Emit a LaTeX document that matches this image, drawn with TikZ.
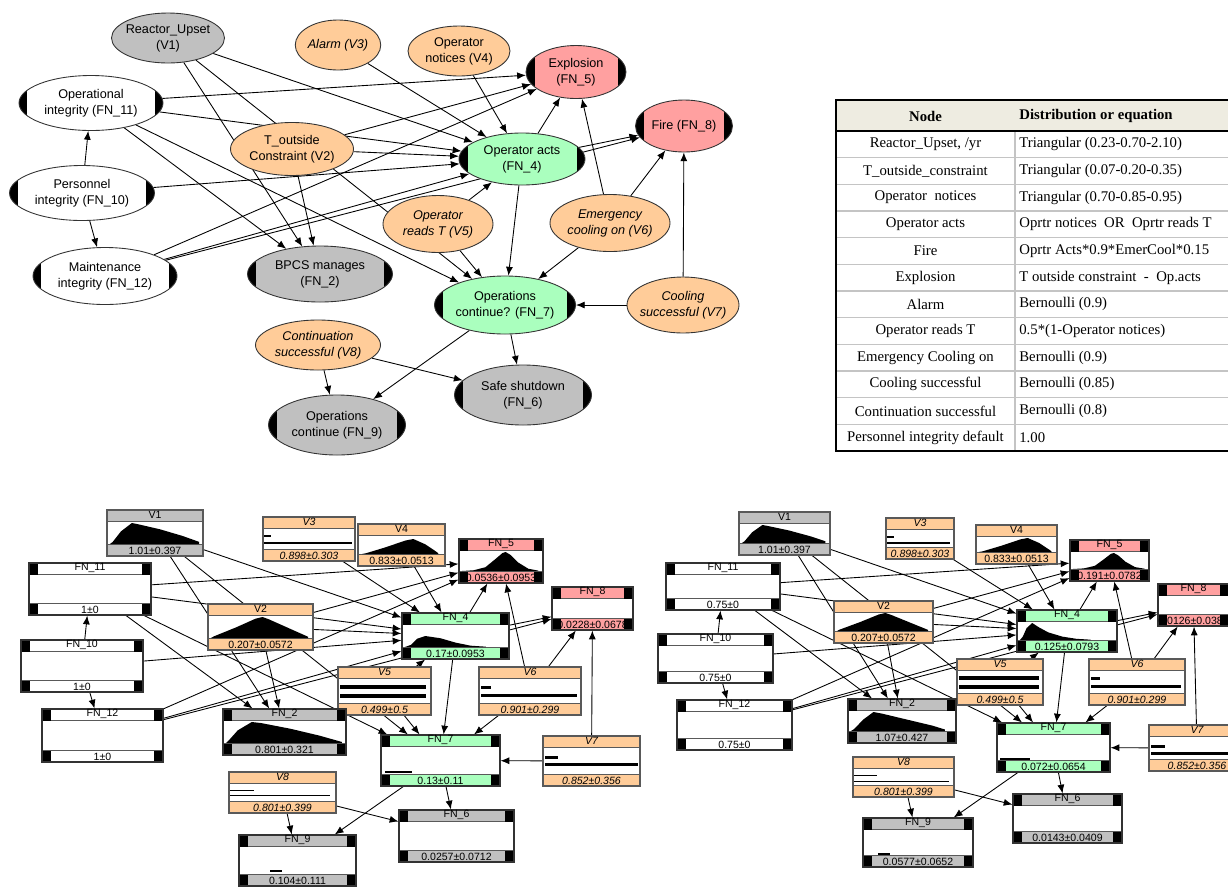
\documentclass[tikz,border=0pt]{standalone}
\usepackage{fontspec}
\setmainfont{Liberation Serif}
\setsansfont{Liberation Sans}
\usetikzlibrary{arrows.meta,shapes.geometric}

\definecolor{vargray}{RGB}{192,192,192}
\definecolor{varorange}{RGB}{255,204,153}
\definecolor{fnpink}{RGB}{255,160,160}
\definecolor{fngreen}{RGB}{170,255,190}
\definecolor{tabhead}{RGB}{238,236,225}
\definecolor{tabrule}{RGB}{196,196,196}

\newlength\bandh \setlength\bandh{0.23cm}
\newlength\capw \setlength\capw{0.18cm}
\newcommand{\topfont}{\sffamily\fontsize{7.2}{9}\selectfont}
\newcommand{\boxfont}{\sffamily\fontsize{6}{7}\selectfont}
\newcommand{\tabfont}{\rmfamily\fontsize{8.4}{10}\selectfont}
\newcommand{\twoline}[2]{\makebox[0pt]{\begin{tabular}{@{}c@{}}#1\\#2\end{tabular}}}
\newcommand{\netbox}[8]{%
  \node[#6, minimum width={(#4-#2)*0.02cm}, minimum height={(#5-#3)*0.02cm}] (#1) at ({(#2+#4)/2},{(#3+#5)/2}) {};
  \node[boxtxt] (#1t) at ([yshift=-0.5\bandh]#1.north) {#7};
  \node[boxtxt] (#1v) at ([yshift=0.5\bandh]#1.south) {#8};}
\newcommand{\histshape}[5]{\fill[black] (#1,#3) \foreach \hx/\hy in {#5} {-- ({#1+\hx*(#2-#1)},{#3-\hy*#4})} -- cycle;}
\newcommand{\barpair}[6]{\draw[line width=#6*0.02cm] (#1,#2) -- ++(#3,0) (#1,#4) -- ++(#5,0);}

\pgfdeclarelayer{edges}
\pgfsetlayers{edges,main}

\tikzset{
  >={Latex[length=5pt,width=4pt]},
  sz/.style 2 args={minimum width=#1*0.02cm, minimum height=#2*0.02cm},
  ell/.style={ellipse, draw=black!80, line width=0.5pt, inner sep=0pt, font=\topfont},
  itl/.style={font=\topfont\itshape},
  capped/.style={path picture={
      \fill[black] (path picture bounding box.south west) rectangle ([xshift=0.17cm]path picture bounding box.north west);
      \fill[black] (path picture bounding box.south east) rectangle ([xshift=-0.17cm]path picture bounding box.north east);}},
  varbox/.style={rectangle, draw=black!65, line width=0.6pt, fill=white, inner sep=0pt, path picture={
      \coordinate (pnw) at (path picture bounding box.north west);
      \coordinate (pne) at (path picture bounding box.north east);
      \coordinate (psw) at (path picture bounding box.south west);
      \coordinate (pse) at (path picture bounding box.south east);
      \fill[#1] (pnw) rectangle ([yshift=-\bandh]pne);
      \fill[#1] (psw) rectangle ([yshift=\bandh]pse);
      \draw[black!65, line width=0.6pt] ([yshift=-\bandh]pnw) -- ([yshift=-\bandh]pne) ([yshift=\bandh]psw) -- ([yshift=\bandh]pse);}},
  fnbox/.style={rectangle, draw=black!80, line width=0.6pt, fill=white, inner sep=0pt, path picture={
      \coordinate (pnw) at (path picture bounding box.north west);
      \coordinate (pne) at (path picture bounding box.north east);
      \coordinate (psw) at (path picture bounding box.south west);
      \coordinate (pse) at (path picture bounding box.south east);
      \fill[#1] (pnw) rectangle ([yshift=-\bandh]pne);
      \fill[#1] (psw) rectangle ([yshift=\bandh]pse);
      \draw[black!65, line width=0.6pt] ([yshift=-\bandh]pnw) -- ([yshift=-\bandh]pne) ([yshift=\bandh]psw) -- ([yshift=\bandh]pse);
      \fill[black] (pnw) rectangle ([xshift=\capw,yshift=-\bandh]pnw);
      \fill[black] (pne) rectangle ([xshift=-\capw,yshift=-\bandh]pne);
      \fill[black] (psw) rectangle ([xshift=\capw,yshift=\bandh]psw);
      \fill[black] (pse) rectangle ([xshift=-\capw,yshift=\bandh]pse);}},
  boxtxt/.style={font=\boxfont, inner sep=0pt},
  tabtxt/.style={font=\tabfont, inner sep=0pt}
}

\begin{document}
\begin{tikzpicture}[x=0.02cm,y=-0.02cm]
\useasboundingbox (0,0) rectangle (1228,887);
\clip (0,0) rectangle (1228,887);

% network, ellipse view
\node[ell, fill=vargray, sz={113}{50}] (tV1) at (168,38) {\twoline{Reactor\_Upset}{(V1)}};
\node[ell, itl, fill=varorange, sz={85}{50}] (tV3) at (338,45) {Alarm (V3)};
\node[ell, fill=varorange, sz={102}{50}] (tV4) at (459,51) {\twoline{Operator}{notices (V4)}};
\node[ell, capped, fill=fnpink, sz={100}{53}] (tFN5) at (576,72) {\twoline{Explosion}{(FN\_5)}};
\node[ell, capped, fill=fnpink, sz={97}{52}] (tFN8) at (684,126) {Fire (FN\_8)};
\node[ell, capped, fill=white, sz={144}{55}] (tFN11) at (91,103) {\twoline{Operational}{integrity (FN\_11)}};
\node[ell, fill=varorange, sz={123}{53}] (tV2) at (292,149) {\twoline{T\_outside}{Constraint (V2)}};
\node[ell, capped, fill=fngreen, sz={126}{52}] (tFN4) at (522,159) {\twoline{Operator acts}{(FN\_4)}};
\node[ell, capped, fill=white, sz={145}{55}] (tFN10) at (82,193) {\twoline{Personnel}{integrity (FN\_10)}};
\node[ell, itl, fill=varorange, sz={110}{57}] (tV5) at (438,224) {\twoline{Operator}{reads T (V5)}};
\node[ell, itl, fill=varorange, sz={120}{57}] (tV6) at (610,223) {\twoline{Emergency}{cooling on (V6)}};
\node[ell, capped, fill=white, sz={144}{57}] (tFN12) at (105,276) {\twoline{Maintenance}{integrity (FN\_12)}};
\node[ell, capped, fill=vargray, sz={145}{56}] (tFN2) at (320,274) {\twoline{BPCS manages}{(FN\_2)}};
\node[ell, capped, fill=fngreen, sz={141}{58}] (tFN7) at (505,305) {\twoline{Operations}{continue? (FN\_7)}};
\node[ell, itl, fill=varorange, sz={112}{56}] (tV7) at (683,305) {\twoline{Cooling}{successful (V7)}};
\node[ell, itl, fill=varorange, sz={125}{50}] (tV8) at (318,345) {\twoline{Continuation}{successful (V8)}};
\node[ell, capped, fill=vargray, sz={137}{60}] (tFN6) at (523,395) {\twoline{Safe shutdown}{(FN\_6)}};
\node[ell, capped, fill=vargray, sz={137}{60}] (tFN9) at (337,425) {\twoline{Operations}{continue (FN\_9)}};

% table
\fill[tabhead] (836,100) rectangle (1240,131);
\foreach \i in {1,...,11}
  \draw[tabrule, line width=0.8pt] (836,{131+\i*26.67}) -- (1240,{131+\i*26.67});
\draw[tabrule, line width=0.8pt] (1015,131) -- (1015,451);
\draw[line width=1.1pt] (1240,100) -- (836,100) -- (836,451) -- (1240,451);
\draw[line width=1.1pt] (836,131) -- (1240,131);
\node[tabtxt, font=\tabfont\bfseries] (hnode) at (925.5,116) {Node};
\node[tabtxt, font=\tabfont\bfseries, anchor=west] (hdist) at (1019,116) {Distribution or equation};
\foreach \i/\n/\d in {1/{Reactor\_Upset, /yr}/{Triangular (0.23-0.70-2.10)},
    2/{T\_outside\_constraint}/{Triangular (0.07-0.20-0.35)},
    3/{Operator~ notices}/{Triangular (0.70-0.85-0.95)},
    4/{Operator acts}/{Oprtr notices~ OR~ Oprtr reads T},
    5/{Fire}/{Oprtr Acts*0.9*EmerCool*0.15},
    6/{Explosion}/{T outside constraint~ -~ Op.acts},
    7/{Alarm}/{Bernoulli (0.9)},
    8/{Operator reads T}/{0.5*(1-Operator notices)},
    9/{Emergency Cooling on}/{Bernoulli (0.9)},
    10/{Cooling successful}/{Bernoulli (0.85)},
    11/{Continuation successful}/{Bernoulli (0.8)},
    12/{Personnel integrity default}/{1.00}} {
  \node[tabtxt] (n\i) at (925.5,{131+(\i-0.5)*26.67}) {\n};
  \node[tabtxt, anchor=west] (d\i) at (1019,{131+(\i-0.5)*26.67}) {\d};
}

% network, box view, defaults
\netbox{aV1}{107}{510}{203}{556}{varbox=vargray}{V1}{1.01±0.397}
\netbox{aV3}{263}{517}{355}{561}{varbox=varorange}{\itshape V3}{\itshape 0.898±0.303}
\netbox{aV4}{358}{524}{445}{566}{varbox=varorange}{V4}{0.833±0.0513}
\netbox{aFN5}{459}{539}{543}{583}{fnbox=fnpink}{FN\_5}{0.0536±0.0953}
\netbox{aFN11}{29}{563}{151}{615}{fnbox=white}{FN\_11}{1±0}
\netbox{aFN8}{552}{587}{633}{630}{fnbox=fnpink}{FN\_8}{0.0228±0.0678}
\netbox{aV2}{208}{604}{313}{650}{varbox=varorange}{V2}{0.207±0.0572}
\netbox{aFN4}{402}{613}{509}{659}{fnbox=fngreen}{FN\_4}{0.17±0.0953}
\netbox{aFN10}{21}{640}{143}{692}{fnbox=white}{FN\_10}{1±0}
\netbox{aV5}{338}{667}{431}{715}{varbox=varorange}{\itshape V5}{\itshape 0.499±0.5}
\netbox{aV6}{479}{667}{581}{715}{varbox=varorange}{\itshape V6}{\itshape 0.901±0.299}
\netbox{aFN12}{42}{709}{163}{762}{fnbox=white}{FN\_12}{1±0}
\netbox{aFN2}{223}{709}{346}{755}{fnbox=vargray}{FN\_2}{0.801±0.321}
\netbox{aFN7}{381}{735}{500}{786}{fnbox=fngreen}{FN\_7}{0.13±0.11}
\netbox{aV7}{543}{736}{640}{786}{varbox=varorange}{\itshape V7}{\itshape 0.852±0.356}
\netbox{aV8}{229}{772}{336}{813}{varbox=varorange}{\itshape V8}{\itshape 0.801±0.399}
\netbox{aFN6}{399}{810}{514}{862}{fnbox=vargray}{FN\_6}{0.0257±0.0712}
\netbox{aFN9}{239}{835}{356}{886}{fnbox=vargray}{FN\_9}{0.104±0.111}

\histshape{110}{201}{544}{21}{0/0,0.03/0.1,0.12/0.6,0.24/1,0.3/0.95,0.55/0.7,0.8/0.38,0.98/0.1,0.98/0}
\histshape{211}{310}{638}{21}{0/0,0.03/0.08,0.25/0.5,0.45/0.92,0.52/1,0.58/0.9,0.78/0.48,0.98/0.06,0.98/0}
\histshape{362}{441}{554}{15}{0/0,0.05/0.05,0.3/0.45,0.55/0.9,0.65/1,0.8/0.65,0.95/0.12,0.97/0}
\histshape{462}{540}{571}{19}{0/0,0.15/0.04,0.3/0.2,0.42/0.6,0.52/0.95,0.56/1,0.62/0.85,0.72/0.45,0.85/0.12,0.98/0.02,0.98/0}
\histshape{405}{506}{647}{11}{0/0,0.06/0.2,0.12/0.75,0.2/1,0.35/0.8,0.5/0.4,0.65/0.12,0.8/0.03,0.8/0}
\histshape{226}{343}{743}{21}{0/0,0.02/0.1,0.1/0.6,0.22/1,0.3/0.95,0.55/0.68,0.8/0.35,0.99/0.05,0.99/0}
\barpair{264}{536}{7}{543}{88}{2.5}
\barpair{340}{687}{86}{696}{86}{4}
\barpair{481}{687}{10}{695}{96}{3}
\barpair{545}{757}{13}{764}{93}{3}
\barpair{230}{790}{24}{795}{100}{1}
\fill (385,771) rectangle (412,773);
\fill (270,870) rectangle (282,872);

% network, box view, degraded integrity
\netbox{bV1}{739}{512}{830}{555}{varbox=vargray}{V1}{1.01±0.397}
\netbox{bV3}{886}{518}{954}{559}{varbox=varorange}{\itshape V3}{\itshape 0.898±0.303}
\netbox{bV4}{976}{525}{1057}{564}{varbox=varorange}{V4}{0.833±0.0513}
\netbox{bFN5}{1070}{540}{1149}{581}{fnbox=fnpink}{FN\_5}{0.191±0.0782}
\netbox{bFN11}{666}{563}{780}{610}{fnbox=white}{FN\_11}{0.75±0}
\netbox{bFN8}{1158}{584}{1229}{626}{fnbox=fnpink}{FN\_8}{0.0126±0.0386}
\netbox{bV2}{834}{601}{933}{643}{varbox=varorange}{V2}{0.207±0.0572}
\netbox{bFN4}{1017}{610}{1117}{652}{fnbox=fngreen}{FN\_4}{0.125±0.0793}
\netbox{bFN10}{658}{634}{773}{683}{fnbox=white}{FN\_10}{0.75±0}
\netbox{bV5}{957}{659}{1043}{705}{varbox=varorange}{\itshape V5}{\itshape 0.499±0.5}
\netbox{bV6}{1089}{659}{1185}{705}{varbox=varorange}{\itshape V6}{\itshape 0.901±0.299}
\netbox{bFN12}{677}{700}{792}{750}{fnbox=white}{FN\_12}{0.75±0}
\netbox{bFN2}{848}{699}{956}{743}{fnbox=vargray}{FN\_2}{1.07±0.427}
\netbox{bFN7}{997}{723}{1110}{772}{fnbox=fngreen}{FN\_7}{0.072±0.0654}
\netbox{bV7}{1149}{725}{1245}{771}{varbox=varorange}{\itshape V7}{\itshape 0.852±0.356}
\netbox{bV8}{853}{757}{954}{797}{varbox=varorange}{\itshape V8}{\itshape 0.801±0.399}
\netbox{bFN6}{1013}{794}{1122}{843}{fnbox=vargray}{FN\_6}{0.0143±0.0409}
\netbox{bFN9}{863}{818}{973}{867}{fnbox=vargray}{FN\_9}{0.0577±0.0652}

\histshape{742}{827}{543}{18}{0/0,0.03/0.1,0.12/0.6,0.24/1,0.3/0.95,0.55/0.7,0.8/0.38,0.98/0.1,0.98/0}
\histshape{837}{930}{631}{18}{0/0,0.03/0.08,0.25/0.5,0.45/0.92,0.52/1,0.58/0.9,0.78/0.48,0.98/0.06,0.98/0}
\histshape{979}{1054}{552}{14}{0/0,0.05/0.05,0.3/0.45,0.55/0.9,0.65/1,0.8/0.65,0.95/0.12,0.97/0}
\histshape{1073}{1146}{569}{16}{0/0,0.15/0.04,0.3/0.2,0.42/0.6,0.52/0.95,0.56/1,0.62/0.85,0.72/0.45,0.85/0.12,0.98/0.02,0.98/0}
\histshape{1020}{1114}{640}{17}{0/0,0.03/0.2,0.07/0.7,0.13/1,0.2/0.75,0.3/0.45,0.45/0.2,0.6/0.07,0.75/0.02,0.75/0}
\histshape{851}{953}{731}{19}{0/0,0.03/0.1,0.12/0.6,0.22/1,0.3/0.92,0.55/0.6,0.8/0.28,0.92/0.08,0.92/0}
\barpair{887}{537}{7}{543}{63}{2}
\barpair{959}{678}{80}{687}{80}{4}
\barpair{1091}{678}{9}{686}{90}{3}
\barpair{1151}{746}{14}{753}{90}{3}
\barpair{854}{775}{23}{781}{95}{1}
\fill (1000,758) rectangle (1030,760);
\fill (878,853) rectangle (890,855);

% arcs, same in all three views
\begin{pgfonlayer}{edges}
  \foreach \g in {t,a,b}
    \foreach \src/\dst in {V1/FN2, V1/FN7, V1/FN4, V3/FN4, V4/FN4,
        FN11/FN5, FN11/FN4, FN11/FN2, FN11/FN7, FN10/FN11, FN10/FN12, FN10/FN4,
        FN12/FN4, FN12/FN5, FN12/FN8, V2/FN5, V2/FN4, V2/FN2, V5/FN4, V5/FN7,
        FN4/FN5, FN4/FN8, FN4/FN7, V6/FN5, V6/FN8, V6/FN7, V7/FN8, V7/FN7,
        V8/FN9, V8/FN6, FN7/FN6, FN7/FN9}
      \draw[->, line width=0.5pt] (\g\src) -- (\g\dst);
\end{pgfonlayer}
\end{tikzpicture}
\end{document}
